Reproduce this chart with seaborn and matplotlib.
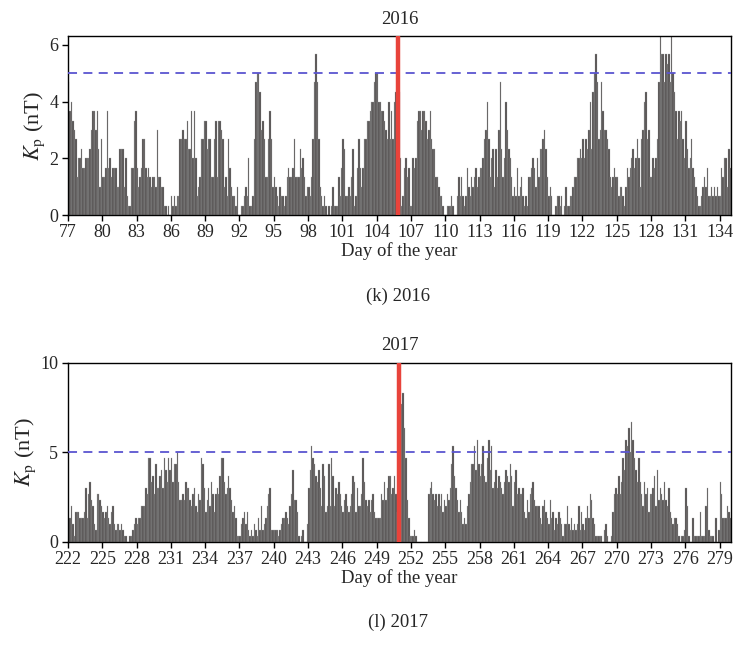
"""Kp index (3-hourly) around two events, 2016 and 2017 panels."""

import numpy as np
import pandas as pd
import matplotlib
matplotlib.use('Agg')
import matplotlib.pyplot as plt
import seaborn as sns

# 3-hourly Kp values, one row of 8 per day
start_2016 = 77
kp_2016 = [
    [4.67, 3.67, 4.0, 3.33, 3.0, 2.67, 1.33, 2.0],      # 77
    [2.0, 2.33, 1.67, 1.67, 2.0, 2.0, 2.0, 2.33],
    [3.0, 3.67, 3.67, 3.0, 3.67, 2.33, 1.0, 2.67],
    [1.33, 1.33, 1.67, 3.67, 1.67, 2.0, 1.33, 1.67],    # 80
    [1.67, 1.67, 1.0, 1.0, 2.33, 2.33, 2.33, 1.0],
    [2.0, 0.67, 0.33, 0.33, 1.67, 1.67, 3.33, 3.67],
    [1.67, 1.0, 1.33, 1.67, 2.67, 2.67, 1.67, 1.33],    # 83
    [1.67, 1.33, 1.0, 1.33, 1.33, 1.0, 3.0, 1.33],
    [1.33, 1.0, 1.0, 0.33, 0.33, 0.0, 0.33, 0.0],
    [0.67, 0.33, 0.67, 0.33, 0.67, 0.67, 2.67, 2.67],   # 86
    [3.0, 2.67, 2.67, 3.33, 2.33, 2.33, 3.67, 2.0],
    [3.67, 2.0, 0.67, 1.0, 1.33, 2.67, 2.67, 3.33],
    [3.33, 2.33, 2.67, 2.67, 1.33, 1.33, 2.67, 3.33],   # 89
    [1.33, 3.33, 3.33, 3.0, 2.67, 1.0, 1.33, 0.67],
    [2.67, 1.67, 1.0, 0.67, 0.67, 0.33, 1.0, 0.0],
    [0.0, 0.33, 0.33, 0.67, 1.0, 0.67, 2.0, 0.33],      # 92
    [0.33, 0.67, 2.67, 4.67, 5.0, 5.0, 4.33, 3.0],
    [3.33, 2.67, 1.33, 1.33, 2.67, 3.67, 2.67, 1.0],
    [1.33, 1.0, 0.67, 0.33, 1.0, 0.67, 0.67, 0.33],     # 95
    [0.67, 1.33, 1.67, 1.33, 1.33, 1.67, 2.67, 1.33],
    [1.33, 1.33, 2.33, 1.67, 2.0, 1.33, 0.67, 1.0],
    [1.0, 0.67, 1.33, 2.67, 4.67, 5.67, 4.67, 2.67],    # 98
    [1.0, 0.67, 0.33, 0.67, 0.33, 0.0, 0.33, 0.0],
    [0.33, 1.0, 0.33, 0.33, 0.33, 1.33, 0.67, 1.67],
    [2.67, 2.33, 0.67, 0.67, 1.0, 0.67, 1.33, 2.33],    # 101
    [0.33, 0.67, 1.67, 2.67, 1.67, 1.0, 1.67, 2.67],
    [2.67, 3.33, 3.33, 3.67, 4.0, 4.0, 4.67, 5.0],
    [5.0, 4.0, 4.0, 3.67, 3.67, 3.33, 3.0, 2.67],       # 104
    [4.0, 2.67, 3.67, 2.67, 4.0, 4.33, 4.67, 4.33],
    [2.0, 0.33, 0.67, 1.67, 2.0, 1.33, 1.67, 0.33],
    [0.33, 2.0, 1.67, 2.0, 3.33, 3.67, 3.67, 3.0],      # 107
    [3.67, 3.67, 3.33, 2.67, 3.0, 3.67, 2.67, 2.33],
    [2.33, 1.33, 1.33, 1.0, 0.67, 0.67, 0.33, 0.0],
    [0.0, 0.33, 0.33, 0.33, 0.67, 0.33, 0.0, 0.0],      # 110
    [0.67, 1.33, 0.67, 1.33, 0.67, 0.33, 0.67, 1.67],
    [1.0, 0.67, 1.33, 1.0, 1.33, 1.67, 1.0, 1.33],
    [1.67, 1.67, 2.0, 2.67, 3.0, 4.0, 2.67, 1.33],      # 113
    [2.0, 2.33, 1.0, 2.33, 1.33, 3.0, 4.67, 2.33],
    [1.33, 2.0, 4.0, 3.0, 2.33, 2.0, 1.33, 0.67],
    [1.0, 0.67, 1.67, 0.67, 1.0, 1.33, 0.67, 0.33],     # 116
    [0.67, 0.33, 1.33, 1.33, 1.67, 2.0, 1.67, 1.0],
    [2.0, 1.33, 2.33, 2.33, 2.67, 3.0, 2.33, 1.33],
    [0.67, 1.0, 0.67, 0.0, 0.0, 0.33, 0.67, 0.67],      # 119
    [0.33, 0.67, 0.0, 0.33, 1.0, 0.33, 0.33, 0.67],
    [0.67, 1.0, 1.33, 1.33, 2.0, 2.0, 2.33, 2.0],
    [2.67, 2.0, 2.67, 2.33, 3.0, 4.0, 2.33, 4.33],      # 122
    [5.0, 5.67, 4.67, 2.67, 3.0, 4.67, 3.67, 3.0],
    [3.0, 2.67, 2.33, 1.33, 1.0, 1.33, 1.67, 1.33],
    [1.33, 0.67, 1.0, 1.0, 0.67, 0.33, 1.0, 1.67],      # 125
    [1.33, 1.67, 2.0, 2.33, 1.67, 2.0, 2.67, 2.0],
    [1.0, 2.67, 3.0, 4.0, 4.33, 2.67, 3.0, 1.33],
    [1.33, 2.0, 1.67, 2.0, 2.67, 4.67, 6.33, 5.67],     # 128
    [5.67, 4.67, 5.67, 5.33, 5.67, 4.67, 6.33, 5.0],
    [4.33, 3.67, 2.67, 3.67, 3.33, 3.67, 2.67, 2.0],
    [3.33, 2.33, 1.67, 2.0, 2.67, 1.67, 1.33, 1.0],     # 131
    [0.67, 0.33, 0.33, 0.67, 1.0, 1.33, 1.0, 1.67],
    [0.67, 0.67, 1.0, 0.67, 1.0, 0.67, 1.0, 0.67],
    [0.67, 1.67, 1.33, 2.0, 2.0, 1.0, 2.33, 1.67],      # 134
]

start_2017 = 222
kp_2017 = [
    [1.33, 1.33, 2.0, 1.0, 0.33, 1.67, 1.67, 1.67],     # 222
    [1.33, 1.33, 1.33, 1.67, 3.0, 1.33, 2.67, 3.33],
    [2.33, 2.0, 1.0, 0.67, 2.67, 2.67, 2.33, 2.0],
    [1.67, 1.33, 1.67, 2.0, 1.33, 1.0, 1.67, 2.0],      # 225
    [1.0, 0.67, 1.0, 1.0, 0.67, 1.0, 0.67, 0.33],
    [0.33, 0.0, 0.0, 0.33, 0.33, 0.67, 1.0, 1.33],
    [1.0, 1.33, 1.33, 2.0, 2.0, 2.0, 3.0, 2.67],        # 228
    [4.67, 4.67, 3.33, 3.67, 2.67, 4.33, 3.0, 3.0],
    [3.67, 4.0, 3.0, 4.67, 4.0, 3.33, 4.67, 4.0],
    [4.67, 3.33, 4.33, 4.33, 5.0, 3.33, 2.33, 2.33],    # 231
    [2.67, 2.33, 3.33, 3.0, 3.0, 2.33, 2.0, 2.67],
    [3.0, 2.0, 1.67, 2.67, 2.33, 4.67, 4.33, 3.0],
    [1.67, 2.33, 3.0, 2.0, 3.33, 2.67, 1.67, 2.67],     # 234
    [3.0, 2.67, 3.67, 4.67, 4.67, 3.33, 2.67, 3.0],
    [3.67, 3.0, 2.33, 1.67, 2.0, 1.33, 0.33, 0.33],
    [0.33, 1.0, 1.33, 1.67, 1.0, 1.67, 0.67, 0.33],     # 237
    [0.67, 0.33, 1.0, 0.67, 0.33, 1.33, 0.67, 2.0],
    [0.67, 1.0, 1.33, 2.0, 2.67, 3.0, 0.67, 0.67],
    [0.67, 0.67, 0.67, 0.33, 0.67, 1.0, 1.33, 1.33],    # 240
    [1.67, 1.33, 1.0, 2.0, 2.67, 4.0, 2.33, 2.33],
    [1.67, 0.33, 0.0, 0.33, 0.67, 0.0, 0.0, 1.0],
    [3.0, 4.0, 5.33, 4.67, 4.33, 3.67, 3.33, 4.0],      # 243
    [3.0, 2.0, 4.33, 3.67, 1.67, 2.0, 4.33, 2.0],
    [4.67, 3.67, 2.0, 3.0, 2.67, 3.33, 2.67, 2.0],
    [1.67, 2.33, 2.67, 2.0, 1.67, 2.0, 2.67, 3.67],     # 246
    [3.33, 1.67, 3.0, 2.0, 2.0, 2.67, 4.67, 3.33],
    [2.33, 2.0, 2.33, 1.67, 2.33, 2.67, 1.67, 1.33],
    [1.33, 1.33, 1.33, 2.67, 2.33, 3.33, 2.33, 3.0],    # 249
    [3.67, 3.67, 2.67, 3.0, 3.67, 2.67, 1.67, 7.67],
    [5.0, 7.67, 8.33, 6.33, 4.67, 2.33, 1.33, 0.33],
    [0.33, 0.33, 0.67, 0.33, 0.0, 0.0, 0.0, 0.0],       # 252
    [0.0, 0.0, 0.0, 0.0, 2.67, 3.0, 3.33, 2.67],
    [2.33, 2.67, 2.0, 2.67, 2.0, 2.67, 1.67, 2.33],
    [2.0, 2.67, 2.33, 3.0, 4.33, 5.33, 3.67, 3.0],      # 255
    [2.33, 1.67, 2.33, 1.67, 1.0, 1.33, 1.0, 2.0],
    [2.67, 3.33, 4.33, 4.33, 5.33, 4.0, 5.67, 4.33],
    [3.67, 4.33, 5.33, 3.67, 3.33, 4.67, 5.67, 4.0],    # 258
    [5.33, 3.0, 3.33, 4.0, 3.0, 3.67, 3.33, 3.0],
    [2.67, 3.33, 4.0, 3.67, 3.33, 4.33, 3.67, 2.0],
    [3.33, 4.0, 2.67, 3.0, 2.67, 2.67, 3.0, 1.67],      # 261
    [1.33, 2.33, 1.67, 2.67, 3.0, 3.33, 2.33, 2.0],
    [2.0, 2.0, 1.33, 1.0, 2.0, 2.33, 1.67, 1.33],
    [1.0, 2.33, 1.33, 1.67, 0.67, 1.33, 1.0, 1.67],     # 264
    [1.33, 1.0, 0.33, 1.0, 1.0, 2.0, 1.0, 0.67],
    [1.33, 0.67, 1.0, 0.67, 1.0, 2.0, 0.67, 1.67],
    [1.0, 0.67, 1.33, 2.0, 1.33, 2.67, 2.33, 1.33],     # 267
    [1.0, 0.33, 0.33, 0.33, 0.33, 0.33, 0.0, 0.67],
    [1.0, 0.33, 0.0, 0.0, 0.33, 1.67, 2.67, 3.0],
    [2.67, 3.67, 2.67, 3.33, 4.67, 4.0, 5.67, 5.33],    # 270
    [6.33, 5.0, 6.67, 5.67, 4.67, 4.0, 3.33, 4.67],
    [3.33, 2.67, 2.0, 3.33, 2.67, 3.0, 1.67, 2.67],
    [2.67, 3.0, 3.67, 2.0, 4.0, 2.33, 3.0, 2.67],       # 273
    [2.33, 3.33, 2.33, 2.0, 3.0, 1.67, 1.33, 1.0],
    [1.33, 1.33, 1.0, 0.33, 0.0, 0.33, 0.33, 0.67],
    [3.0, 2.0, 0.33, 0.0, 0.0, 1.33, 0.33, 0.33],       # 276
    [0.33, 0.33, 1.67, 0.33, 0.33, 0.33, 2.0, 3.0],
    [0.67, 0.33, 0.33, 0.33, 0.0, 1.33, 0.0, 0.67],
    [3.33, 2.67, 1.33, 1.33, 1.33, 2.0, 1.67, 1.33],    # 279
]

event_2016 = 105.9
event_2017 = 250.95
storm_level = 5


def to_frame(rows, start):
    kp = np.array(rows).ravel()
    day = start + (np.arange(kp.size) + 0.5) / 8
    return pd.DataFrame({'day': day, 'kp': kp})


sns.set_style('ticks')
plt.rcParams['font.family'] = ['Liberation Serif', 'DejaVu Serif']
plt.rcParams['mathtext.fontset'] = 'stix'

fig = plt.figure(figsize=(7.33, 6.46), dpi=100)

panels = [
    (kp_2016, start_2016, event_2016, '2016', '(k) 2016', 0.667, (0, 6.3), [0, 2, 4, 6]),
    (kp_2017, start_2017, event_2017, '2017', '(l) 2017', 0.1615, (0, 10), [0, 5, 10]),
]

for rows, start, event, title, caption, bottom, ylim, yticks in panels:
    ax = fig.add_axes([0.0928, bottom, 0.9045, 0.277])
    df = to_frame(rows, start)
    sns.barplot(data=df, x='day', y='kp', native_scale=True, width=1.0,
                color='#524f4f', saturation=1, edgecolor='#a8a8a8',
                linewidth=0.2, errorbar=None, ax=ax)
    ax.axhline(storm_level, color='#5b55d0', lw=1.3, dashes=(5, 3.5), zorder=3)
    ax.axvline(event, color='#e8433b', lw=3.2, zorder=4)

    ax.set_xlim(start, start + len(rows))
    ax.set_ylim(*ylim)
    ax.set_yticks(yticks)
    ax.set_xticks(np.arange(start, start + len(rows), 3))
    ax.tick_params(labelsize=13, direction='out', length=4, width=1, color='black')
    ax.tick_params(axis='x', pad=2.5)
    ax.tick_params(axis='y', pad=3)
    for s in ax.spines.values():
        s.set_visible(True)
        s.set_color('black')
        s.set_linewidth(1.0)

    ax.set_title(title, fontsize=13.5, pad=9)
    ax.set_xlabel('Day of the year', fontsize=13.5, labelpad=1)
    ax.set_ylabel(r'$K_\mathrm{p}$ (nT)', fontsize=16, labelpad=2)
    fig.text(0.543, bottom - 0.125, caption, ha='center', va='center', fontsize=13.5)

fig.savefig('out.png', dpi=100)
